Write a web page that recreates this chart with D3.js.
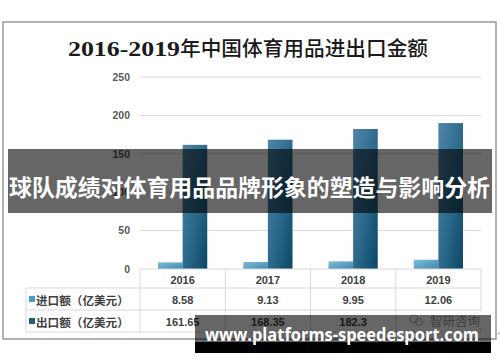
<!DOCTYPE html>
<html>
<head>
<meta charset="utf-8">
<script src="https://cdn.jsdelivr.net/npm/d3@7"></script>
<style>
  body { margin: 0; background: #fff; }
  svg { display: block; }
</style>
</head>
<body>
<svg width="500" height="362"></svg>
<script>
// chart data
var years = ["2016", "2017", "2018", "2019"];
var importVals = [8.58, 9.13, 9.95, 12.06];
var exportVals = [161.65, 168.35, 182.3, 190.0];
var yTicks = [0, 50, 100, 150, 200, 250];
var seriesNames = ["进口额（亿美元）", "出口额（亿美元）"];

var titleNum = "2016-2019";
var titleCn = "年中国体育用品进出口金额";
var bannerText = "球队成绩对体育用品品牌形象的塑造与影响分析";
var siteText = "www.platforms-speedesport.com";

// layout
var plot = { left: 140, right: 481, top: 77, bottom: 269 };
var rows = [269, 288, 310, 332];
var labelLeft = 26;

var svg = d3.select("svg");
var defs = svg.append("defs");

var gExp = defs.append("linearGradient").attr("id", "gExp")
	.attr("x1", 0).attr("y1", 0).attr("x2", 1).attr("y2", 1);
gExp.append("stop").attr("offset", "0%").attr("stop-color", "#4f86a8");
gExp.append("stop").attr("offset", "55%").attr("stop-color", "#2b688a");
gExp.append("stop").attr("offset", "100%").attr("stop-color", "#0a4864");

var gImp = defs.append("linearGradient").attr("id", "gImp")
	.attr("x1", 0).attr("y1", 0).attr("x2", 1).attr("y2", 1);
gImp.append("stop").attr("offset", "0%").attr("stop-color", "#82bcd8");
gImp.append("stop").attr("offset", "100%").attr("stop-color", "#3a8ab2");

// outer frame
svg.append("rect")
	.attr("x", 3).attr("y", 22).attr("width", 493).attr("height", 317)
	.attr("fill", "#fff").attr("stroke", "#7f7f7f").attr("stroke-width", 1.2);

// title, digits in serif, the rest in CJK
var title = svg.append("text").attr("y", 56).attr("fill", "#1a1a1a").attr("font-size", 20.5);
title.append("tspan").text(titleNum)
	.attr("x", 68).attr("textLength", 112).attr("lengthAdjust", "spacingAndGlyphs")
	.attr("font-family", "'Liberation Serif', serif").attr("font-weight", "bold");
title.append("tspan").text(titleCn)
	.attr("x", 180).attr("textLength", 248).attr("lengthAdjust", "spacingAndGlyphs")
	.attr("font-family", "'Noto Sans CJK SC', sans-serif").attr("font-weight", 500);

// scales
var x = d3.scaleBand().domain(years).range([plot.left, plot.right]).padding(0);
var inner = d3.scaleBand().domain([0, 1]).range([18, x.bandwidth() - 18]).padding(0);
var y = d3.scaleLinear().domain([0, 250]).range([plot.bottom, plot.top]);

// grid
svg.append("g").selectAll("line").data(yTicks.slice(1)).join("line")
	.attr("x1", plot.left).attr("x2", plot.right)
	.attr("y1", function(d){ return y(d); }).attr("y2", function(d){ return y(d); })
	.attr("stroke", "#d9d9d9").attr("stroke-width", 1);

// y axis labels
var yAxis = svg.append("g").attr("transform", "translate(" + 130 + ",0)")
	.call(d3.axisLeft(y).tickValues(yTicks).tickSize(0).tickPadding(0));
yAxis.select(".domain").remove();
yAxis.selectAll("text")
	.attr("font-family", "'Liberation Sans', sans-serif").attr("font-weight", "bold")
	.attr("font-size", 10.5).attr("fill", "#595959");

// bars
var series = [importVals, exportVals];
var fills = ["url(#gImp)", "url(#gExp)"];
series.forEach(function(vals, si){
	svg.append("g").selectAll("rect").data(vals).join("rect")
		.attr("x", function(d, i){ return x(years[i]) + inner(si); })
		.attr("width", inner.bandwidth())
		.attr("y", function(d){ return y(d); })
		.attr("height", function(d){ return y(0) - y(d); })
		.attr("fill", fills[si]);
});

// data table
var tbl = svg.append("g").attr("stroke", "#d9d9d9").attr("stroke-width", 1);
tbl.append("line").attr("x1", plot.left).attr("x2", plot.right).attr("y1", rows[0]).attr("y2", rows[0]);
[1, 2, 3].forEach(function(r){
	tbl.append("line").attr("x1", labelLeft).attr("x2", plot.right).attr("y1", rows[r]).attr("y2", rows[r]);
});
years.forEach(function(yr){
	tbl.append("line").attr("x1", x(yr)).attr("x2", x(yr)).attr("y1", rows[0]).attr("y2", rows[3]);
});
tbl.append("line").attr("x1", plot.right).attr("x2", plot.right).attr("y1", rows[0]).attr("y2", rows[3]);
tbl.append("line").attr("x1", labelLeft).attr("x2", labelLeft).attr("y1", rows[1]).attr("y2", rows[3]);

var cellFont = "'Liberation Sans', sans-serif";
svg.append("g").selectAll("text").data(years).join("text")
	.attr("x", function(d){ return x(d) + x.bandwidth() / 2; })
	.attr("y", (rows[0] + rows[1]) / 2 + 1)
	.attr("text-anchor", "middle").attr("dominant-baseline", "central")
	.attr("font-family", cellFont).attr("font-weight", "bold").attr("font-size", 11)
	.attr("fill", "#404040").text(function(d){ return d; });

var squareCols = ["#4b9cc4", "#1f5e80"];
series.forEach(function(vals, si){
	var cy = (rows[si + 1] + rows[si + 2]) / 2 + 1;
	svg.append("g").selectAll("text").data(vals).join("text")
		.attr("x", function(d, i){ return x(years[i]) + x.bandwidth() / 2; })
		.attr("y", cy)
		.attr("text-anchor", "middle").attr("dominant-baseline", "central")
		.attr("font-family", cellFont).attr("font-weight", "bold").attr("font-size", 11)
		.attr("fill", "#404040").text(function(d){ return String(d); });
	svg.append("rect").attr("x", 29).attr("y", cy - 4).attr("width", 6).attr("height", 6)
		.attr("fill", squareCols[si]);
	svg.append("text").attr("x", 36).attr("y", cy)
		.attr("dominant-baseline", "central")
		.attr("font-family", "'Noto Sans CJK SC', sans-serif").attr("font-weight", "bold")
		.attr("font-size", 11.6).attr("fill", "#404040").text(seriesNames[si]);
});

// watermark in the table corner
var wm = svg.append("g").attr("fill", "none").attr("stroke", "#b0b0b0").attr("stroke-width", 1);
wm.append("circle").attr("cx", 414).attr("cy", 319).attr("r", 4);
wm.append("circle").attr("cx", 419).attr("cy", 322).attr("r", 3.5);
svg.append("rect").attr("x", 428).attr("y", 311).attr("width", 58).attr("height", 17).attr("fill", "#fff");
svg.append("text").attr("x", 430).attr("y", 320).attr("dominant-baseline", "central")
	.attr("font-family", "'Noto Sans CJK SC', sans-serif").attr("font-size", 12.5)
	.attr("fill", "#9a9a9a").text("智研咨询");
svg.append("text").attr("x", 497).attr("y", 335).attr("font-size", 9).attr("fill", "#999").text("«");

// headline banner across the chart
svg.append("rect").attr("x", 8).attr("y", 149).attr("width", 484).attr("height", 64)
	.attr("fill", "#000").attr("opacity", 0.6);
svg.append("text").attr("x", 9).attr("y", 186)
	.attr("dominant-baseline", "central")
	.attr("textLength", 481).attr("lengthAdjust", "spacingAndGlyphs")
	.attr("font-family", "'Noto Sans CJK SC', sans-serif").attr("font-weight", "bold")
	.attr("font-size", 22.5).attr("fill", "#fff").text(bannerText);

// site banner at the bottom
svg.append("rect").attr("x", 195).attr("y", 315).attr("width", 296).attr("height", 28)
	.attr("fill", "#000").attr("opacity", 0.6);
svg.append("rect").attr("x", 195).attr("y", 342).attr("width", 296).attr("height", 11)
	.attr("fill", "#000");
svg.append("text").attr("x", 205).attr("y", 341)
	.attr("textLength", 274).attr("lengthAdjust", "spacingAndGlyphs")
	.attr("font-family", "'Open Sans', sans-serif").attr("font-weight", "bold")
	.attr("font-size", 17).attr("fill", "#fff").text(siteText);
</script>
</body>
</html>
